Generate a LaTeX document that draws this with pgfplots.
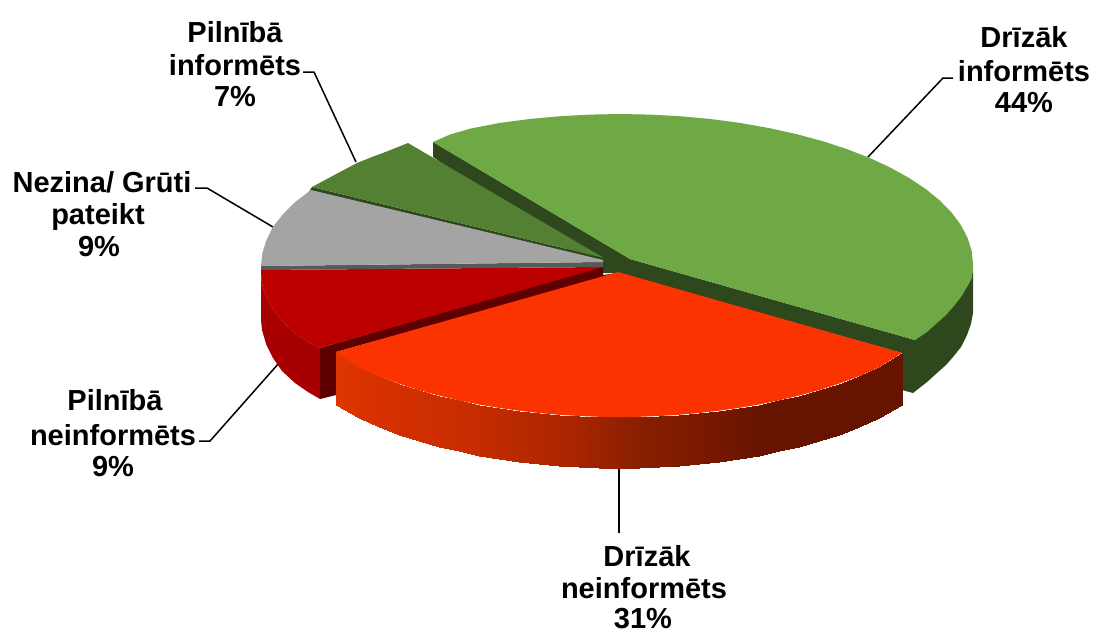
\documentclass[border=0pt]{standalone}
\usepackage{pgfplots}
\pgfplotsset{compat=1.18}
\usepackage{fontspec}
\setmainfont{Liberation Sans}
\definecolor{gtop}{HTML}{6FA945}
\definecolor{gdark}{HTML}{2E471C}
\definecolor{ltop}{HTML}{548034}
\definecolor{otop}{HTML}{FA3300}
\definecolor{rtop}{HTML}{BC0000}
\definecolor{rside}{HTML}{A80000}
\definecolor{rdark}{HTML}{5E0000}
\definecolor{gray1}{HTML}{A4A4A4}
\definecolor{gray2}{HTML}{595959}
\tikzset{lab/.style={anchor=base,font=\fontsize{29}{33}\selectfont\bfseries,inner sep=0pt}}
\begin{document}
\begin{tikzpicture}
\useasboundingbox (0,0) rectangle (1094pt,630pt);
\begin{axis}[
  at={(0,0)},anchor=south west,
  scale only axis,width=1094pt,height=630pt,
  xmin=0,xmax=1094,ymin=0,ymax=630,y dir=reverse,
  hide axis,clip=false,no markers,
  colormap={side}{rgb255(336pt)=(222,54,0); rgb255(383pt)=(214,48,0); rgb255(483pt)=(196,44,0); rgb255(583pt)=(164,36,0); rgb255(633pt)=(138,32,0); rgb255(720pt)=(116,23,0); rgb255(760pt)=(102,20,0); rgb255(902pt)=(102,20,0)},
  point meta min=336,point meta max=902,
  every axis plot/.append style={line join=round},
]
% leader lines
\addplot[black,line width=1.5pt] coordinates {(868,157)(943,78)(953,78)};
\addplot[black,line width=1.5pt] coordinates {(356,162)(314,72)(303,72)};
\addplot[black,line width=1.5pt] coordinates {(273,227)(207,188)(195,188)};
\addplot[black,line width=1.5pt] coordinates {(279,363)(210,441)(199,441)};
\addplot[black,line width=1.5pt] coordinates {(619,468)(619,533)};
% green walls
\addplot[fill=gdark,draw=none] coordinates {(433,142)(433,157)(603,273)(618,273)(902,353)(902,390)(913,393)(927,382)(937,373)(946,365)(953,357)(961,347)(967,335)(971,324)(973,313)(973,272)(915,340)(630,259)} --cycle;
% red outer wall
\addplot[fill=rside,draw=none] coordinates {(261,270)(261,320)(262,330)(266.4,345)(273,358)(282,371)(295,383)(308,392)(320,399)(320,348)(308,342)(295,333)(282.5,322)(273,309)(266.4,297)(263,288)(261.5,280)} --cycle;
% red dark cut wall
\addplot[fill=rdark,draw=none] coordinates {(320,348)(320,399)(336,395)(336,352)(618,273)(603,275)(603,266)} --cycle;
% red top
\addplot[fill=rtop,draw=none] coordinates {(261,270)(261.5,280)(263,288)(266.4,297)(273,309)(282.5,322)(295,333)(308,342)(320,348)(603,267)} --cycle;
% dark-green slice wall
\addplot[fill=gdark,draw=none] coordinates {(312,187)(604,258)(604,263)(308,193)} --cycle;
% grey
\addplot[fill=gray2,draw=none] coordinates {(261,266)(603,262)(603,267)(261,270)} --cycle;
\addplot[fill=gray1,draw=none] coordinates {(261,266)(262.4,253)(266.4,240)(273,227)(282.5,214.7)(294.4,202.6)(311,190)(603,260)(603,262)} --cycle;
% dark-green slice
\addplot[fill=ltop,draw=none] coordinates {(312,187)(325,180)(340,172)(357,163)(372,157)(388,151)(408,143)(604,258)} --cycle;
% green top
\addplot[fill=gtop,draw=none] coordinates {(433,142)(450,134.5)(470.8,128.5)(499.3,123)(528.6,119.1)(558.7,116.3)(589.2,114.6)(620,114)(650.8,114.6)(681.3,116.3)(711.4,119.1)(740.7,123)(769.2,128.1)(796.5,134.1)(822.5,141.1)(846.9,149.1)(869.6,157.9)(890.4,167.6)(909.2,178)(925.7,189)(939.9,200.6)(951.7,212.7)(961,225.2)(967.6,238)(971.7,250.9)(973,264)(973,270)(971.5,279)(967,287)(961,297)(953,307)(946,315)(937,323)(927,332)(915,340)(630,259)} --cycle;
% orange side, shaded along x
\addplot[patch,patch type=rectangle,shader=interp,point meta=x] coordinates {
(336,352)(359,367.4)(359,418.4)(336,405)
(359,367.4)(379,376.2)(379,427.2)(359,418.4)
(379,376.2)(399,383.7)(399,434.7)(379,427.2)
(399,383.7)(419,390.1)(419,441.1)(399,434.7)
(419,390.1)(439,395.6)(439,446.6)(419,441.1)
(439,395.6)(459,400.4)(459,451.4)(439,446.6)
(459,400.4)(479,404.5)(479,455.5)(459,451.4)
(479,404.5)(499,407.9)(499,458.9)(479,455.5)
(499,407.9)(519,410.7)(519,461.7)(499,458.9)
(519,410.7)(539,413)(539,464)(519,461.7)
(539,413)(559,414.8)(559,465.8)(539,464)
(559,414.8)(579,416)(579,467)(559,465.8)
(579,416)(599,416.8)(599,467.8)(579,467)
(599,416.8)(619,417)(619,468)(599,467.8)
(619,417)(639,416.8)(639,467.8)(619,468)
(639,416.8)(659,416)(659,467)(639,467.8)
(659,416)(679,414.8)(679,465.8)(659,467)
(679,414.8)(699,413)(699,464)(679,465.8)
(699,413)(719,410.7)(719,461.7)(699,464)
(719,410.7)(739,407.9)(739,458.9)(719,461.7)
(739,407.9)(759,404.5)(759,455.5)(739,458.9)
(759,404.5)(779,400.4)(779,451.4)(759,455.5)
(779,400.4)(799,395.6)(799,446.6)(779,451.4)
(799,395.6)(819,390.1)(819,441.1)(799,446.6)
(819,390.1)(839,383.7)(839,434.7)(819,441.1)
(839,383.7)(859,376.2)(859,427.2)(839,434.7)
(859,376.2)(879,367.4)(879,418.4)(859,427.2)
(879,367.4)(902,353)(902,405)(879,418.4)
};
% orange top
\addplot[fill=otop,draw=none] coordinates {(618,272)(902,353)(879,367.4)(859,376.2)(839,383.7)(819,390.1)(799,395.6)(779,400.4)(759,404.5)(739,407.9)(719,410.7)(699,413)(679,414.8)(659,416)(639,416.8)(619,417)(599,416.8)(579,416)(559,414.8)(539,413)(519,410.7)(499,407.9)(479,404.5)(459,400.4)(439,395.6)(419,390.1)(399,383.7)(379,376.2)(359,367.4)(336,352)} --cycle;
% labels
\node[lab] at (axis cs:1024,47) {Drīzāk};
\node[lab] at (axis cs:1024,81) {informēts};
\node[lab] at (axis cs:1024,112) {44\%};
\node[lab] at (axis cs:235,42) {Pilnībā};
\node[lab] at (axis cs:235,75) {informēts};
\node[lab] at (axis cs:235,106) {7\%};
\node[lab] at (axis cs:102,192) {Nezina/ Grūti};
\node[lab] at (axis cs:98,224) {pateikt};
\node[lab] at (axis cs:99,256) {9\%};
\node[lab] at (axis cs:115,410) {Pilnībā};
\node[lab] at (axis cs:113,445) {neinformēts};
\node[lab] at (axis cs:113,476) {9\%};
\node[lab] at (axis cs:647,566) {Drīzāk};
\node[lab] at (axis cs:644,598) {neinformēts};
\node[lab] at (axis cs:643,628) {31\%};
\end{axis}
\end{tikzpicture}
\end{document}
